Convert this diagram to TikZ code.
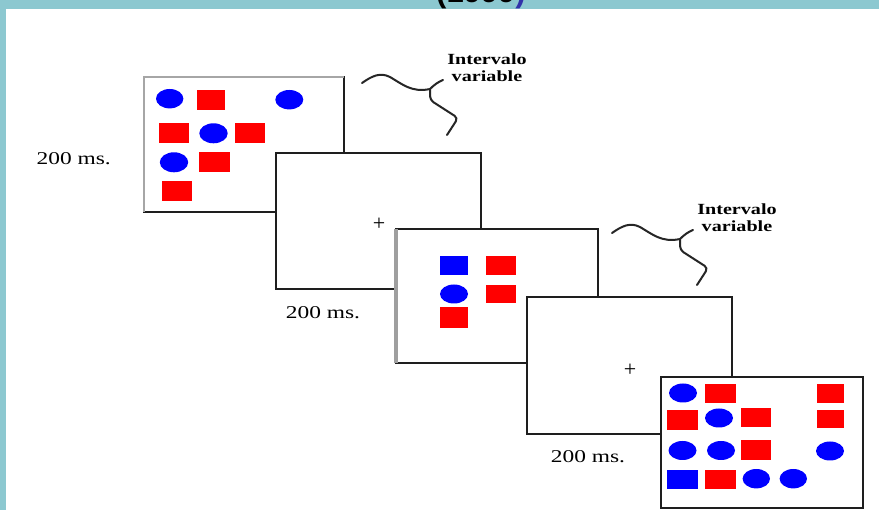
\documentclass[tikz,border=0pt]{standalone}
\usepackage{fontspec}
\setmainfont{Liberation Serif}
\newfontfamily\headfont{Liberation Sans}
\definecolor{band}{RGB}{140,200,208}
\definecolor{sqblue}{RGB}{0,0,255}
\definecolor{sqred}{RGB}{255,0,0}
\definecolor{frame}{RGB}{30,30,30}
\definecolor{parblue}{RGB}{50,50,170}
\tikzset{
  screen/.style={draw=frame, line width=1.6pt, fill=white, inner sep=0pt, outer sep=0pt, anchor=north west},
  rbox/.style={fill=sqred},
  bbox/.style={fill=sqblue},
  dot/.style={fill=sqblue},
  squig/.style={draw=black!85, line width=2pt, line cap=round, line join=round},
  lbl/.style={font=\bfseries\fontsize{15.5}{17}\selectfont, anchor=base, inner sep=0pt},
  dur/.style={font=\fontsize{18}{20}\selectfont, anchor=base, inner sep=0pt},
  fix/.style={font=\fontsize{22}{24}\selectfont, inner sep=0pt},
  squiggle/.pic={
    \draw[squig] (0,0) .. controls (10,-7) and (18,-11) .. (28,-6)
      .. controls (40,1) and (50,10) .. (68,6)
      .. controls (72,2) and (76,-1) .. (81,-3);
    \draw[squig, rounded corners=4pt] (68,6) -- (68,17) -- (96,35) -- (85,52);
  }
}
\begin{document}
\begin{tikzpicture}[x=1pt,y=-1pt]
\useasboundingbox (0,0) rectangle (879,510);
\clip (0,0) rectangle (879,510);
\fill[white] (0,0) rectangle (879,510);
\fill[band] (0,0) rectangle (879,9);
\fill[band] (0,0) rectangle (6,510);
\node[anchor=base, inner sep=0pt, font=\headfont\bfseries\fontsize{31}{31}\selectfont] (year) at (481,3) {(1999\textcolor{parblue}{)}};

% screen 1
\node[screen, minimum width=200pt, minimum height=135pt] (s1) at (144,77) {};
\draw[gray!70, line width=1.6pt] (s1.south west) -- (s1.north west) -- (s1.north east);
\fill[dot] (169.7,98.7) ellipse [x radius=13.7, y radius=9.7];
\fill[rbox] (197,90) rectangle (225,110);
\fill[dot] (289.3,99.7) ellipse [x radius=14, y radius=9.7];
\fill[rbox] (159,123) rectangle (189,143);
\fill[dot] (213.5,133.3) ellipse [x radius=14.2, y radius=10];
\fill[rbox] (235,123) rectangle (265,143);
\fill[dot] (174,162.3) ellipse [x radius=14.2, y radius=10];
\fill[rbox] (199,152) rectangle (230,172);
\fill[rbox] (162,181) rectangle (192,201);

% screen 2
\node[screen, minimum width=205pt, minimum height=136pt] (s2) at (276,153) {};
\node[fix] (p1) at (379,224) {+};

% screen 3
\node[screen, minimum width=202pt, minimum height=134pt] (s3) at (396,229) {};
\draw[gray!75, line width=3.5pt] (s3.north west) -- (s3.south west);
\fill[bbox] (440,256) rectangle (468,275);
\fill[rbox] (486,256) rectangle (516,275);
\fill[dot] (454,294) ellipse [x radius=14, y radius=9.5];
\fill[rbox] (486,285) rectangle (516,303);
\fill[rbox] (440,307) rectangle (468,328);

% screen 4
\node[screen, minimum width=205pt, minimum height=137pt] (s4) at (527,297) {};
\node[fix] (p2) at (630,370.5) {+};

% screen 5
\node[screen, minimum width=202pt, minimum height=131pt] (s5) at (661,377) {};
\fill[dot] (683,393) ellipse [x radius=14, y radius=9.5];
\fill[rbox] (705,384) rectangle (736,403);
\fill[rbox] (817,384) rectangle (844,403);
\fill[rbox] (667,410) rectangle (698,430);
\fill[dot] (719,418) ellipse [x radius=14, y radius=9.5];
\fill[rbox] (741,408) rectangle (771,427);
\fill[rbox] (817,410) rectangle (844,428);
\fill[dot] (682.5,450.5) ellipse [x radius=14, y radius=9.5];
\fill[dot] (721,450.5) ellipse [x radius=14, y radius=9.5];
\fill[rbox] (741,440) rectangle (771,460);
\fill[dot] (830,451) ellipse [x radius=14, y radius=9.5];
\fill[bbox] (667,470) rectangle (698,489);
\fill[rbox] (705,470) rectangle (736,489);
\fill[dot] (756.3,478.7) ellipse [x radius=13.7, y radius=9.7];
\fill[dot] (793.3,478.7) ellipse [x radius=13.7, y radius=9.7];

% squiggles and labels
\pic at (362,83) {squiggle};
\pic at (612,233) {squiggle};
\node[lbl] (iv1a) at (487,65) {\scalebox{1.3}[1]{Intervalo}};
\node[lbl] (iv1b) at (487,82) {\scalebox{1.3}[1]{variable}};
\node[lbl] (iv2a) at (737,215) {\scalebox{1.3}[1]{Intervalo}};
\node[lbl] (iv2b) at (737,232) {\scalebox{1.3}[1]{variable}};

% durations
\node[dur] (d1) at (73.7,165) {\scalebox{1.3}[1]{200 ms.}};
\node[dur] (d2) at (323,319) {\scalebox{1.3}[1]{200 ms.}};
\node[dur] (d3) at (588,463) {\scalebox{1.3}[1]{200 ms.}};
\end{tikzpicture}
\end{document}
